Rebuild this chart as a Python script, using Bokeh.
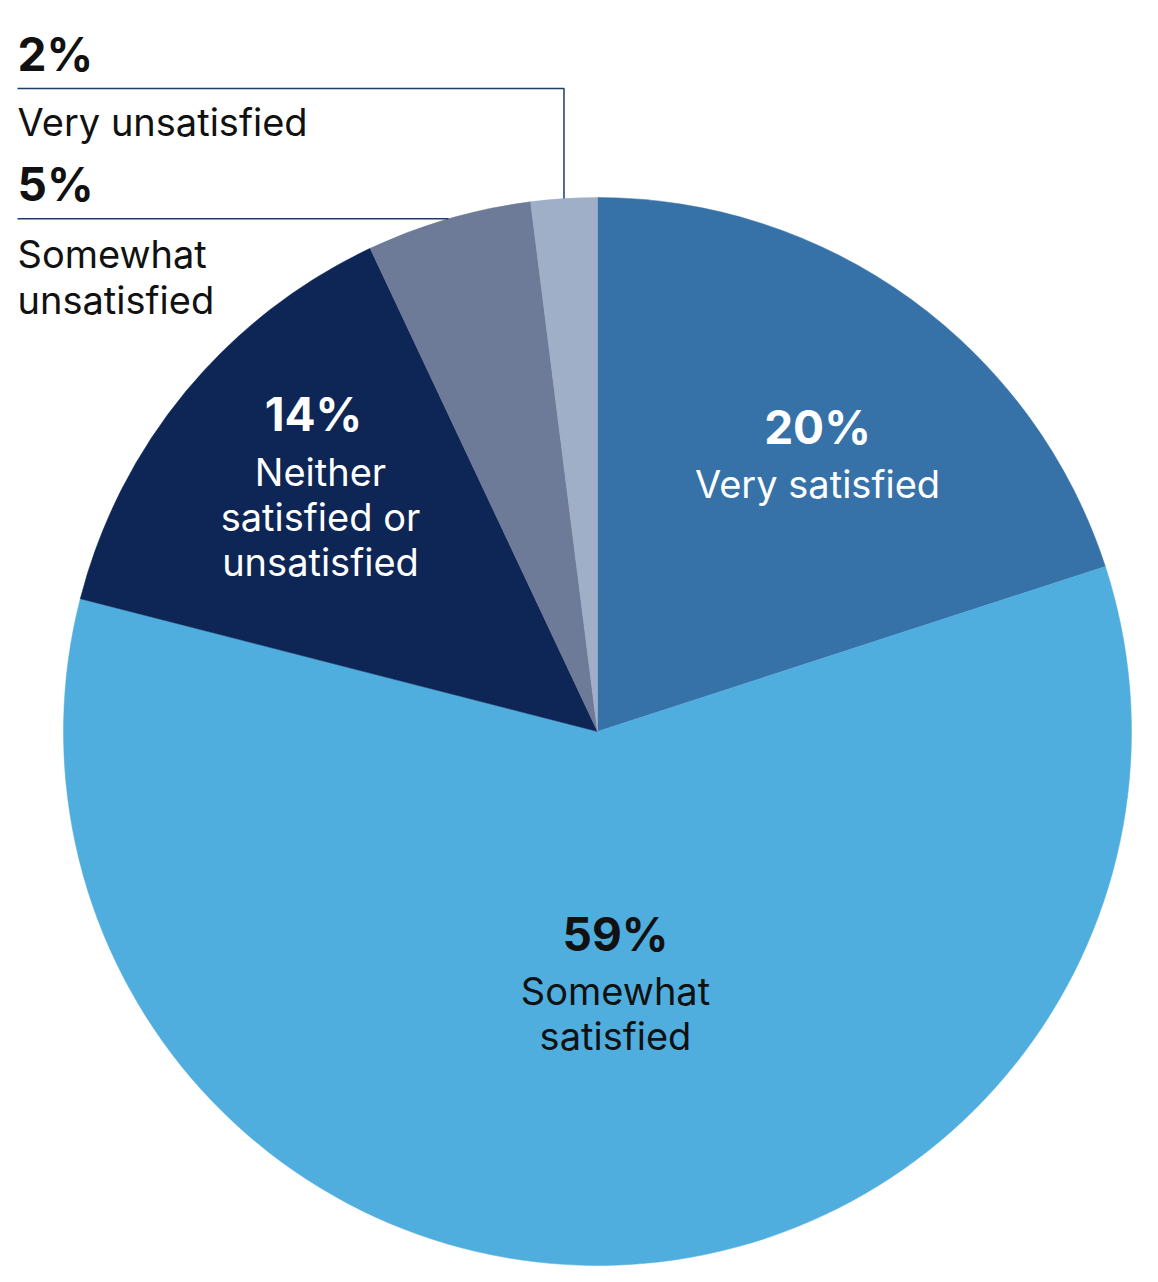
import math
from bokeh.plotting import figure
from bokeh.models import Range1d, ColumnDataSource
from bokeh.core.properties import value
from bokeh.embed import file_html
from bokeh.resources import INLINE

# ---- data ----
categories = ["Very satisfied", "Somewhat satisfied", "Neither satisfied or unsatisfied",
              "Somewhat unsatisfied", "Very unsatisfied"]
percents = [20, 59, 14, 5, 2]
colors = ["#3672A8", "#50AEDF", "#0E2655", "#6E7B98", "#9FAFC8"]

W, H = 1158, 1282
CX, CY, R = 597, H - 731, 534
FONT = "Inter"
SHIFT = 17  # baseline correction

p = figure(width=W, height=H, output_backend="svg", toolbar_location=None,
           x_range=Range1d(0, W), y_range=Range1d(0, H), min_border=0)
p.axis.visible = False
p.grid.visible = False
p.outline_line_color = None
p.background_fill_color = "white"

# angles: start at top, clockwise
total = sum(percents)
starts, ends, mids = [], [], []
a = math.pi / 2
for v in percents:
    b = a - v / total * 2 * math.pi
    starts.append(b)
    ends.append(a)
    mids.append((a + b) / 2)
    a = b

src = ColumnDataSource(dict(x=[CX] * 5, y=[CY] * 5, start=starts, end=ends, color=colors))
p.wedge(x="x", y="y", radius=R, start_angle="start", end_angle="end",
        fill_color="color", line_color="color", line_width=0.5, source=src)

def txt(x, y, t, size, color, bold=False, align="center"):
    p.text(x=[x], y=[H - y + SHIFT], text=[t], text_font=value(FONT),
           text_font_size=f"{size}px", text_color=color,
           text_font_style="bold" if bold else "normal",
           text_align=align, text_baseline="alphabetic")

BS, TS = 46, 38
# Very satisfied
txt(817, 443, f"{percents[0]}%", BS, "white", True)
txt(817, 500, "Very satisfied", TS, "white")
# Somewhat satisfied
txt(615, 950, f"{percents[1]}%", BS, "#111111", True)
txt(615, 1007, "Somewhat", TS, "#111111")
txt(615, 1052, "satisfied", TS, "#111111")
# Neither
txt(313, 430, f"{percents[2]}%", BS, "white", True)
txt(320, 488, "Neither", TS, "white")
txt(320, 533, "satisfied or", TS, "white")
txt(320, 578, "unsatisfied", TS, "white")

# ---- outside labels ----
txt(17, 70, f"{percents[4]}%", BS, "#111111", True, "left")
txt(17, 138, "Very unsatisfied", TS, "#111111", False, "left")
txt(17, 200, f"{percents[3]}%", BS, "#111111", True, "left")
txt(17, 270, "Somewhat", TS, "#111111", False, "left")
txt(17, 316, "unsatisfied", TS, "#111111", False, "left")

# leader lines to slice mid-arcs
LC = "#1F3A6B"
m4 = mids[4]
x4, y4 = CX + R * math.cos(m4), CY + R * math.sin(m4)
p.line(x=[17, x4, x4], y=[H - 88, H - 88, y4], line_color=LC, line_width=1.5)
m3 = mids[3]
x3, y3 = CX + R * math.cos(m3), CY + R * math.sin(m3)
p.line(x=[17, x3], y=[y3, y3], line_color=LC, line_width=1.5)

open("out.html", "w").write(file_html(p, INLINE))
